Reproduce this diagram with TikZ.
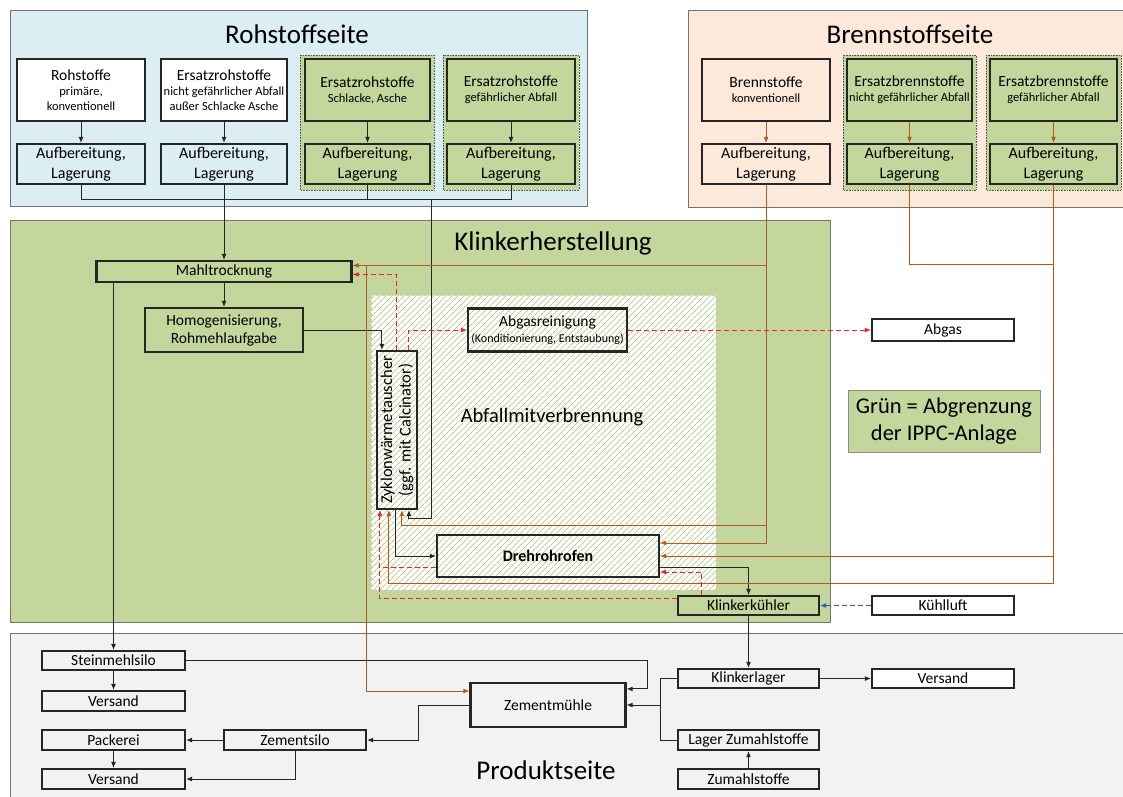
\documentclass[tikz,border=0pt]{standalone}
\usepackage{fontspec}
\setmainfont{Carlito}
\usetikzlibrary{calc,patterns.meta,arrows.meta}

\definecolor{rohblau}{RGB}{219,238,244}
\definecolor{brennrot}{RGB}{253,233,217}
\definecolor{ippc}{RGB}{195,214,155}
\definecolor{prodgrau}{RGB}{242,242,242}
\definecolor{braun}{RGB}{184,88,32}
\definecolor{abgasrot}{RGB}{232,40,40}
\definecolor{luftblau}{RGB}{45,95,190}
\definecolor{schraffur}{RGB}{178,200,140}

\newcommand{\klein}{\fontsize{12.5}{15}\selectfont}
\newcommand{\titel}{\fontsize{27}{30}\selectfont}

\tikzset{
  kasten/.style={draw=black!85, line width=2.2pt, align=center, inner sep=1pt,
    font=\fontsize{15.5}{18}\selectfont},
  quelle/.style={kasten, fill=#1, minimum height=62pt},
  quelle/.default=white,
  aufb/.style={kasten, fill=#1, minimum height=40pt, font=\fontsize{16}{19.5}\selectfont},
  aufb/.default=white,
  bereich/.style={draw=black!55, line width=0.8pt, fill=#1},
  gruppe/.style={draw=black!65, densely dotted, line width=0.6pt, fill=ippc},
  schraffiert/.style={draw=black!20, dashed, line width=0.5pt, fill=white!93!ippc,
    postaction={pattern={Lines[angle=45,distance=4pt,line width=0.8pt]}, pattern color=schraffur}},
  leitung/.style={line width=0.9pt, draw=black!85},
  fluss/.style={leitung, -{Latex[length=6pt,width=5pt]}},
  brenn/.style={fluss, draw=braun},
  gas/.style={fluss, draw=abgasrot, dash pattern=on 5pt off 3pt},
  luft/.style={fluss, draw=luftblau, dash pattern=on 5pt off 3pt}
}

\begin{document}
\begin{tikzpicture}[x=1pt, y=-1pt]
\useasboundingbox (0,0) rectangle (1123,796);

% Bereiche
\draw[bereich=rohblau] (10,10) rectangle (587,206);
\draw[bereich=brennrot] (688,10) rectangle (1130,207);
\draw[bereich=ippc] (10,220) rectangle (830,622);
\draw[bereich=prodgrau] (10,633) rectangle (1130,805);
\foreach \a/\b in {300/434, 443/579, 843/976, 986/1121}
  \draw[gruppe] (\a,55) rectangle (\b,190);
\draw[schraffiert] (371,295) rectangle (716,590);

\node[font=\titel] (troh) at (297,34) {Rohstoffseite};
\node[font=\titel] (tbrenn) at (910,34) {Brennstoffseite};
\node[font=\titel] (tklinker) at (553,243) {Klinkerherstellung};
\node[font=\titel] (tprodukt) at (546,770) {Produktseite};
\node[font=\fontsize{20.5}{24}\selectfont] (tabfall) at (552,417) {Abfallmitverbrennung};

% Rohstoffseite
\node[quelle, minimum width=128pt] (rs1) at (81,90) {Rohstoffe\\[-3pt]{\klein primäre,}\\[-3pt]{\klein konventionell}};
\node[quelle, minimum width=126pt] (rs2) at (224,90) {Ersatzrohstoffe\\[-3pt]{\klein nicht gefährlicher Abfall}\\[-3pt]{\klein außer Schlacke Asche}};
\node[quelle=ippc, minimum width=125pt] (rs3) at (367.5,90) {Ersatzrohstoffe\\[-3pt]{\klein Schlacke, Asche}};
\node[quelle=ippc, minimum width=128pt] (rs4) at (511,90) {Ersatzrohstoffe\\[-3pt]{\klein gefährlicher Abfall}};
\foreach \n/\x/\w/\f in {1/81/128pt/rohblau, 2/224/126pt/rohblau, 3/367.5/125pt/ippc, 4/511/128pt/ippc}{
  \node[aufb=\f, minimum width=\w] (ra\n) at (\x,164) {Aufbereitung,\\Lagerung};
  \draw[fluss] (rs\n) -- (ra\n);
}

% Brennstoffseite
\node[quelle=brennrot, minimum width=128pt] (bs1) at (766,90) {Brennstoffe\\[-3pt]{\klein konventionell}};
\node[quelle=ippc, minimum width=125pt] (bs2) at (909.5,90) {Ersatzbrennstoffe\\[-3pt]{\klein nicht gefährlicher Abfall}};
\node[quelle=ippc, minimum width=127pt] (bs3) at (1053.5,90) {Ersatzbrennstoffe\\[-3pt]{\klein gefährlicher Abfall}};
\foreach \n/\x/\w/\f in {1/766/128pt/brennrot, 2/909.5/125pt/ippc, 3/1053.5/127pt/ippc}{
  \node[aufb=\f, minimum width=\w] (ba\n) at (\x,164) {Aufbereitung,\\Lagerung};
  \draw[brenn] (bs\n) -- (ba\n);
}

% Klinkerherstellung
\node[kasten, minimum width=255pt, minimum height=21pt] (mahl) at (224,271.5) {Mahltrocknung};
\node[kasten, minimum width=158pt, minimum height=44pt] (homog) at (224,330) {Homogenisierung,\\Rohmehlaufgabe};
\node[kasten, minimum width=40pt, minimum height=158pt] (zyk) at (397,430) {};
\node[rotate=90, align=center, font=\fontsize{16.5}{18.5}\selectfont] (zyktext) at (zyk) {Zyklonwärmetauscher\\(ggf. mit Calcinator)};
\node[kasten, minimum width=159pt, minimum height=43pt] (abgr) at (547.5,330) {Abgasreinigung\\[-2pt]{\fontsize{12}{13}\selectfont (Konditionierung, Entstaubung)}};
\node[kasten, fill=white, minimum width=142pt, minimum height=22pt] (abgas) at (943,330) {Abgas};
\node[kasten, minimum width=222pt, minimum height=42pt, font=\fontsize{16}{18}\selectfont\bfseries] (dreh) at (548,556) {Drehrohrofen};
\node[kasten, fill=ippc, minimum width=141pt, minimum height=19pt] (kuehler) at (748.5,605.5) {Klinkerkühler};
\node[kasten, fill=white, minimum width=142pt, minimum height=19pt] (kluft) at (943,605.5) {Kühlluft};
\node[draw=black!45, line width=0.8pt, fill=ippc, minimum width=192pt, minimum height=62pt, align=center,
  font=\fontsize{22.5}{27}\selectfont] (legende) at (944,421) {Grün = Abgrenzung\\der IPPC-Anlage};

\coordinate (zs1) at ($(zyk.south west)+(4,0)$);
\coordinate (zs2) at ($(zyk.south west)+(13,0)$);
\coordinate (zsa) at ($(zyk.south west)+(20,0)$);
\coordinate (zs3) at ($(zyk.south west)+(26,0)$);
\coordinate (zs4) at ($(zyk.south west)+(33,0)$);
\coordinate (zn1) at ($(zyk.north west)+(6,0)$);
\coordinate (zn2) at ($(zyk.north west)+(21,0)$);
\coordinate (zn3) at ($(zyk.north west)+(33,0)$);

% Produktseite
\node[kasten, minimum width=143pt, minimum height=19pt] (stein) at (113.5,660.5) {Steinmehlsilo};
\node[kasten, minimum width=143pt, minimum height=20pt] (vers1) at (113.5,701) {Versand};
\node[kasten, minimum width=143pt, minimum height=20pt] (pack) at (113.5,740) {Packerei};
\node[kasten, minimum width=143pt, minimum height=20pt] (vers2) at (113.5,779) {Versand};
\node[kasten, minimum width=142pt, minimum height=20pt] (zsilo) at (295,740) {Zementsilo};
\node[kasten, minimum width=155pt, minimum height=44pt] (zmuehle) at (548,705) {Zementmühle};
\node[kasten, minimum width=141pt, minimum height=19pt] (klager) at (748.5,678.5) {Klinkerlager};
\node[kasten, fill=white, minimum width=142pt, minimum height=19pt] (vers3) at (943,678.5) {Versand};
\node[kasten, minimum width=141pt, minimum height=20pt] (lzu) at (748.5,740) {Lager Zumahlstoffe};
\node[kasten, minimum width=141pt, minimum height=20pt] (zu) at (748.5,779) {Zumahlstoffe};

% Rohstoffwege
\coordinate (rbus) at (0,199);
\coordinate (rzyk) at (431,199);
\draw[leitung] (ra1.south) |- (ra4.south |- rbus) -- (ra4.south);
\draw[leitung] (ra3.south) -- (ra3.south |- rbus);
\draw[fluss] (ra2) -- (mahl);
\draw[fluss] (rzyk) |- ($(zs4)+(0,8)$) -- (zs4);
\draw[fluss] (mahl) -- (homog);
\draw[fluss] (homog.east) -| (zn1);
\draw[fluss] (mahl.south -| stein) -- (stein);
\draw[fluss] (zsa) |- (dreh.west);
\draw[fluss] ($(dreh.east)+(0,11)$) -| (kuehler.north);
\draw[fluss] (kuehler) -- (klager);

% Brennstoffwege
\coordinate (b1m) at ($(mahl.north east)+(0,5.5)$);
\coordinate (bz) at ($(b1m)+(14,0)$);
\coordinate (b1z) at (766,525);
\coordinate (bbus) at (0,264);
\coordinate (b3u) at (0,583);
\draw[brenn] (ba1.south) |- ($(dreh.east)+(0,-13)$);
\draw[brenn] (b1m -| ba1) -- (b1m);
\draw[brenn] (bz) |- ($(zmuehle.west)+(0,-14)$);
\draw[brenn] (b1z) -| (zs3);
\draw[leitung, draw=braun] (ba2.south) |- (ba3.south |- bbus);
\draw[brenn] (ba3.south) -- (ba3.south |- b3u) -| (zs2);
\draw[brenn] (ba3.south |- dreh.east) -- (dreh.east);

% Gaswege
\coordinate (kn) at ($(kuehler.north west)+(25,0)$);
\coordinate (dw) at ($(dreh.west)+(0,11)$);
\draw[gas] (kn) |- ($(dreh.east)+(0,16)$);
\draw[gas] ($(kuehler.north west)+(0,4)$) -| (zs1);
\draw[gas, -] (dw) -- (dw -| zs1);
\draw[gas] (zn2) |- ($(mahl.east)+(0,3)$);
\draw[gas] (zn3) |- (abgr.west);
\draw[gas] (abgr) -- (abgas);
\draw[luft] (kluft) -- (kuehler);

% Produktwege
\coordinate (sk) at ($(zmuehle.north east)+(21,7)$);
\coordinate (kb) at ($(zmuehle.east)+(34,0)$);
\coordinate (zk) at ($(zsilo.east)+(51,0)$);
\draw[fluss] (stein) -- (vers1);
\draw[fluss] (pack) -- (vers2);
\draw[fluss] (stein.east) -| (sk) -- (sk -| zmuehle.east);
\draw[leitung] (klager.west) -| (kb);
\draw[leitung] (lzu.west) -| (kb);
\draw[fluss] (kb) -- (zmuehle.east);
\draw[fluss] (zmuehle.west) -| (zk) -- (zsilo.east);
\draw[fluss] (zsilo) -- (pack);
\draw[fluss] (zsilo.south) |- (vers2.east);
\draw[fluss] (klager) -- (vers3);
\draw[fluss] (zu) -- (lzu);
\end{tikzpicture}
\end{document}
